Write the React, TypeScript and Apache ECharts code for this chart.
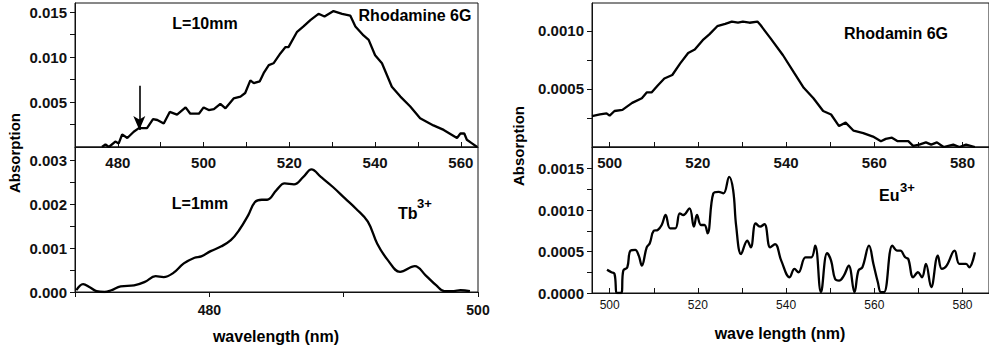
import React, { useEffect, useRef } from "react";
import * as echarts from "echarts";

// ---------- data ----------
// Left top: Rhodamine 6G, L = 10 mm
const rhoLeftWl = [476.3, 477.1, 477.9, 479.4, 480.2, 481.0, 482.2, 483.7, 484.9, 486.8, 488.2, 489.2, 490.7, 492.1, 493.8, 495.8, 496.9, 498.9, 500.0, 501.2, 502.4, 503.9, 505.1, 507.0, 508.6, 509.7, 510.9, 511.7, 513.1, 514.0, 515.2, 516.3, 517.9, 519.1, 519.8, 521.8, 523.3, 524.9, 526.8, 528.2, 530.3, 532.3, 534.2, 535.4, 537.3, 538.5, 540.0, 541.6, 543.9, 545.9, 548.2, 550.5, 553.6, 556.0, 559.1, 559.9, 560.8, 561.4, 562.6, 563.8];
const rhoLeftAbs = [0, 0.0003, 0, 0.0006, 0.0004, 0.0014, 0.001, 0.0017, 0.0021, 0.0021, 0.0031, 0.003, 0.0026, 0.0039, 0.0036, 0.0044, 0.0037, 0.0037, 0.0044, 0.0041, 0.0042, 0.0048, 0.0043, 0.0054, 0.0056, 0.006, 0.0074, 0.0071, 0.0073, 0.0082, 0.0091, 0.0093, 0.0104, 0.0111, 0.0111, 0.0128, 0.0134, 0.0141, 0.0148, 0.0145, 0.0151, 0.0148, 0.0146, 0.0134, 0.0124, 0.0119, 0.0102, 0.0093, 0.0067, 0.0056, 0.0045, 0.0032, 0.0024, 0.0019, 0.001, 0.0015, 0.0015, 0.0008, 0.0004, 0];

// Left bottom: Tb3+, L = 1 mm
const tbWl = [470.1, 470.6, 471.1, 471.6, 472.2, 472.7, 473.4, 474.4, 475.2, 476.0, 476.6, 477.3, 478.1, 478.9, 479.4, 480.1, 480.9, 481.6, 482.2, 482.9, 483.4, 483.9, 484.3, 485.0, 485.6, 486.3, 487.0, 487.6, 488.3, 489.2, 490.1, 490.9, 491.8, 492.5, 493.3, 494.2, 495.3, 496.1, 496.9, 497.5, 498.2, 498.7, 499.4];
const tbAbs = [0.00004, 0.00018, 0.00011, 0.00002, 0, 0.00004, 0.00013, 0.00015, 0.00023, 0.00036, 0.00034, 0.00043, 0.00065, 0.00078, 0.00081, 0.00093, 0.00104, 0.00118, 0.0014, 0.00175, 0.00205, 0.0021, 0.0021, 0.00232, 0.00247, 0.00245, 0.00262, 0.00279, 0.00262, 0.00239, 0.00213, 0.0019, 0.0016, 0.0011, 0.00072, 0.00046, 0.00059, 0.00038, 0.00015, 0.00002, 0.00002, 0.00004, 0.00002];

// Right top: Rhodamin 6G
const rhoRightWl = [496.0, 497.8, 499.3, 500.0, 501.1, 502.9, 505.1, 507.3, 508.4, 509.5, 510.9, 512.4, 514.2, 516.0, 517.8, 519.3, 521.1, 522.6, 524.4, 526.2, 527.7, 529.1, 530.2, 531.7, 533.5, 534.2, 536.4, 539.3, 541.8, 544.0, 546.2, 548.4, 550.2, 552.0, 553.5, 555.3, 557.5, 559.7, 561.5, 562.6, 564.0, 565.3, 567.7, 568.8, 570.2, 571.7, 572.9, 574.2, 575.7, 577.9, 579.3, 580.8, 582.8];
const rhoRightAbs = [0.000265, 0.00028, 0.00029, 0.00027, 0.00031, 0.00032, 0.00038, 0.00042, 0.00047, 0.00047, 0.00053, 0.00059, 0.00062, 0.00072, 0.00081, 0.00084, 0.00092, 0.00097, 0.00104, 0.00106, 0.00108, 0.00107, 0.00108, 0.00107, 0.00108, 0.00105, 0.00094, 0.00079, 0.00064, 0.00051, 0.00042, 0.00031, 0.00028, 0.00018, 0.00021, 0.00014, 0.00012, 0.00009, 0.00005, 0.00007, 0.00008, 0.00005, 0.00005, 0.00001, 0.00002, 0.00004, 0.00002, 0.00004, 0, 0.00002, 0, 0.00002, 0];

// Right bottom: Eu3+
const euWl = [499.4, 500.4, 501.1, 501.7, 502.6, 503.1, 504.0, 504.7, 505.8, 506.6, 507.3, 508.4, 509.1, 510.0, 510.9, 511.8, 512.7, 513.7, 514.9, 515.9, 516.7, 518.1, 519.1, 519.8, 520.7, 521.5, 522.2, 523.5, 524.7, 525.8, 527.1, 528.0, 528.7, 529.8, 531.2, 532.0, 533.1, 534.1, 535.1, 536.4, 537.5, 538.9, 540.8, 541.9, 542.8, 544.4, 545.7, 546.6, 547.9, 549.3, 550.2, 551.1, 552.0, 553.1, 554.2, 555.5, 556.4, 557.3, 558.8, 559.8, 560.8, 561.5, 562.2, 564.1, 565.2, 565.9, 567.0, 567.7, 568.8, 569.9, 570.8, 571.7, 572.9, 574.4, 575.3, 576.4, 578.2, 579.3, 580.8, 581.5, 582.8];
const euAbs = [0.00028, 0.00025, 0.00023, 0, 0, 0.00027, 0.00031, 0.00051, 0.00052, 0.00045, 0.00033, 0.00055, 0.0006, 0.00075, 0.00076, 0.00082, 0.00094, 0.00078, 0.00078, 0.00096, 0.00094, 0.00102, 0.0008, 0.00094, 0.00082, 0.00082, 0.00072, 0.0012, 0.00122, 0.0012, 0.0014, 0.00124, 0.0008, 0.00047, 0.00063, 0.00055, 0.00084, 0.0008, 0.00083, 0.00055, 0.00059, 0.00039, 0.00019, 0.00029, 0.00025, 0.00043, 0.00043, 0.00057, 0.00001, 0.00048, 0.00039, 0.00017, 0.00015, 0.00021, 0.00033, 0.00001, 0.00027, 0.00031, 0.00057, 0.00035, 0.00013, 0.00001, 0.00001, 0.00057, 0.00051, 0.00051, 0.00043, 0.00041, 0.00019, 0.00025, 0.00019, 0.00035, 0.00007, 0.00045, 0.00029, 0.00033, 0.00051, 0.00035, 0.00035, 0.00031, 0.00049];

// arrow marker (wavelength, start value, end value)
const arrowWl = 485;
const arrowFrom = 0.0068;
const arrowTo = 0.0019;

// ticks & labels
const leftTopTicksX = [470, 480, 490, 500, 510, 520, 530, 540, 550, 560];
const leftTopLabelsX = [480, 500, 520, 540, 560];
const leftBotTicksX = [470, 480, 490, 500];
const leftBotLabelsX = [480, 500];
const rightTicksX = [500, 510, 520, 530, 540, 550, 560, 570, 580];
const rightLabelsX = [500, 520, 540, 560, 580];
const leftTopTicksY = [0.0025, 0.005, 0.0075, 0.01, 0.0125, 0.015];
const leftTopLabelsY = [0.005, 0.01, 0.015];
const leftBotTicksY = [0, 0.0005, 0.001, 0.0015, 0.002, 0.0025, 0.003];
const leftBotLabelsY = [0, 0.001, 0.002, 0.003];
const rightTopTicksY = [0.00025, 0.0005, 0.00075, 0.001];
const rightTopLabelsY = [0.0005, 0.001];
const rightBotTicksY = [0, 0.00025, 0.0005, 0.00075, 0.001, 0.00125, 0.0015];
const rightBotLabelsY = [0, 0.0005, 0.001, 0.0015];

// ---------- option ----------
const FONT = '"Liberation Sans", Arial, Helvetica, sans-serif';
const INK = "#111";

const zip = (xs: number[], ys: number[]) => xs.map((x, i) => [x, ys[i]]);

function xAx(gridIndex: number, min: number, max: number, ticks: number[], labels: number[], inside: boolean, fontSize: number, bold: boolean, margin: number) {
  return {
    type: "value",
    gridIndex,
    min,
    max,
    axisLine: { show: true, onZero: false, lineStyle: { color: INK, width: 1 } },
    axisTick: { show: true, inside, length: 5, customValues: ticks, lineStyle: { color: INK, width: 1 } },
    axisLabel: {
      show: true,
      customValues: labels,
      fontSize,
      fontWeight: bold ? "bold" : "normal",
      fontFamily: FONT,
      color: INK,
      margin,
      formatter: (v: number) => String(Math.round(v)),
    },
    splitLine: { show: false },
  };
}

function yAx(gridIndex: number, max: number, ticks: number[], labels: number[], digits: number) {
  return {
    type: "value",
    gridIndex,
    min: 0,
    max,
    axisLine: { show: true, onZero: false, lineStyle: { color: INK, width: 1 } },
    axisTick: { show: true, inside: false, length: 5, customValues: ticks, lineStyle: { color: INK, width: 1 } },
    axisLabel: {
      show: true,
      customValues: labels,
      fontSize: 15,
      fontWeight: "bold",
      fontFamily: FONT,
      color: INK,
      margin: 8,
      formatter: (v: number) => v.toFixed(digits),
    },
    splitLine: { show: false },
  };
}

const gridStyle = { show: true, borderColor: INK, borderWidth: 1, backgroundColor: "transparent" };

const lineSeries = (idx: number, data: number[][], smooth: boolean | number) => ({
  type: "line",
  xAxisIndex: idx,
  yAxisIndex: idx,
  data,
  symbol: "none",
  showSymbol: false,
  smooth,
  lineStyle: { color: "#000", width: 2.3 },
  silent: true,
});

const txt = (text: string, x: number, y: number, size: number, extra: any = {}) => ({
  type: "text",
  x,
  y,
  silent: true,
  ...extra,
  style: {
    text,
    fill: "#000",
    font: `bold ${size}px ${FONT}`,
    align: extra.align || "center",
    verticalAlign: "middle",
  },
});

const option: any = {
  animation: false,
  backgroundColor: "#fff",
  grid: [
    { left: 75, top: 3, width: 403, height: 144, ...gridStyle },
    { left: 75, top: 147, width: 403, height: 145, ...gridStyle },
    { left: 592, top: 3, width: 412.5, height: 144, ...gridStyle },
    { left: 592, top: 147, width: 412.5, height: 146, ...gridStyle },
  ],
  xAxis: [
    xAx(0, 470, 564, leftTopTicksX, leftTopLabelsX, true, 15, true, 8),
    xAx(1, 470, 500, leftBotTicksX, leftBotLabelsX, false, 14, true, 11),
    xAx(2, 496, 586, rightTicksX, rightLabelsX, true, 15, true, 8),
    xAx(3, 496, 586, rightTicksX, rightLabelsX, true, 12, false, 6),
  ],
  yAxis: [
    yAx(0, 0.016, leftTopTicksY, leftTopLabelsY, 3),
    yAx(1, 0.0033, leftBotTicksY, leftBotLabelsY, 3),
    yAx(2, 0.00124, rightTopTicksY, rightTopLabelsY, 4),
    yAx(3, 0.00176, rightBotTicksY, rightBotLabelsY, 4),
  ],
  series: [
    {
      ...lineSeries(0, zip(rhoLeftWl, rhoLeftAbs), false),
      markLine: {
        silent: true,
        symbol: ["none", "arrow"],
        symbolSize: [9, 14],
        label: { show: false },
        lineStyle: { color: "#000", width: 1.6, type: "solid" },
        emphasis: { disabled: true },
        data: [[{ coord: [arrowWl, arrowFrom] }, { coord: [arrowWl, arrowTo] }]],
      },
    },
    lineSeries(1, zip(tbWl, tbAbs), 0.4),
    lineSeries(2, zip(rhoRightWl, rhoRightAbs), false),
    lineSeries(3, zip(euWl, euAbs), 0.4),
  ],
  graphic: [
    txt("Absorption", 14, 153, 15, { rotation: Math.PI / 2 }),
    txt("Absorption", 518, 146, 15, { rotation: Math.PI / 2 }),
    txt("wavelength (nm)", 276, 336, 16),
    txt("wave length (nm)", 780, 333, 16),
    txt("L=10mm", 205, 23, 16),
    txt("Rhodamine 6G", 415, 15, 16),
    txt("L=1mm", 200, 203, 16),
    txt("Tb", 398, 213, 16, { align: "left" }),
    txt("3+", 417, 203, 13, { align: "left" }),
    txt("Rhodamin 6G", 896, 33, 16),
    txt("Eu", 879, 195, 16, { align: "left" }),
    txt("3+", 900, 187, 13, { align: "left" }),
  ],
};

export default function App() {
  const ref = useRef<HTMLDivElement>(null);
  useEffect(() => {
    if (!ref.current) return;
    const chart = echarts.init(ref.current, null, { renderer: "svg" });
    chart.setOption(option);
    return () => chart.dispose();
  }, []);
  return (
    <div
      ref={ref}
      style={{ position: "absolute", left: 0, top: 0, width: 989, height: 351, background: "#fff" }}
    />
  );
}
